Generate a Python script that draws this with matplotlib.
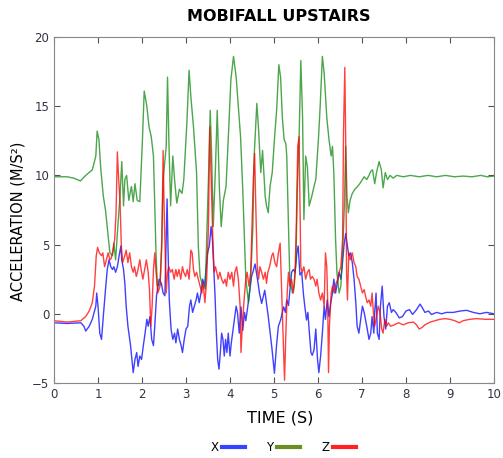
import matplotlib
matplotlib.use("Agg")
import matplotlib.pyplot as plt
from matplotlib.lines import Line2D

# ---- data (time [s], acceleration [m/s^2]) ----
t_y = [0.0, 0.30, 0.45, 0.60, 0.72, 0.87, 0.95, 0.98, 1.02, 1.06, 1.12, 1.17, 1.23, 1.27, 1.33,
       1.36, 1.40, 1.45, 1.50, 1.54, 1.58, 1.61, 1.65, 1.70, 1.76, 1.80, 1.84, 1.89, 1.95, 2.01,
       2.05, 2.11, 2.16, 2.21, 2.26, 2.29, 2.32, 2.35, 2.41, 2.45, 2.48, 2.55, 2.58, 2.61, 2.65,
       2.70, 2.74, 2.79, 2.85, 2.91, 2.95, 3.02, 3.07, 3.11, 3.17, 3.21, 3.24, 3.28, 3.32, 3.38,
       3.44, 3.47, 3.51, 3.55, 3.58, 3.62, 3.67, 3.71, 3.76, 3.80, 3.85, 3.91, 3.96, 4.02, 4.08,
       4.14, 4.19, 4.24, 4.29, 4.33, 4.36, 4.42, 4.47, 4.52, 4.55, 4.61, 4.65, 4.70, 4.74, 4.80,
       4.83, 4.87, 4.91, 4.96, 5.01, 5.06, 5.11, 5.15, 5.19, 5.23, 5.27, 5.29, 5.33, 5.36, 5.42,
       5.46, 5.50, 5.53, 5.57, 5.61, 5.65, 5.68, 5.72, 5.76, 5.80, 5.86, 5.91, 5.95, 6.01, 6.05,
       6.10, 6.14, 6.20, 6.25, 6.30, 6.33, 6.36, 6.40, 6.43, 6.48, 6.52, 6.56, 6.60, 6.63, 6.66,
       6.69, 6.73, 6.78, 6.84, 6.90, 6.95, 7.01, 7.05, 7.11, 7.16, 7.20, 7.24, 7.29, 7.33, 7.39,
       7.44, 7.48, 7.53, 7.58, 7.64, 7.71, 7.79, 7.94, 8.10, 8.30, 8.50, 8.70, 8.90, 9.10, 9.30,
       9.50, 9.70, 9.85, 10.0]
acc_y = [9.9, 9.9, 9.8, 9.6, 10.0, 10.4, 11.4, 13.2, 12.6, 10.6, 8.5, 7.5, 5.6, 4.4, 4.2,
         5.1, 3.9, 6.3, 8.5, 11.0, 7.8, 9.7, 10.0, 8.2, 9.2, 8.1, 9.4, 8.2, 8.1, 12.6,
         16.1, 15.0, 13.5, 12.8, 11.4, 7.8, 4.2, 2.0, 2.1, 5.4, 9.7, 12.1, 17.1, 12.6, 7.8,
         11.4, 9.7, 8.0, 9.0, 8.7, 9.7, 13.8, 17.6, 15.7, 13.5, 11.6, 10.2, 4.9, 2.7, 2.0,
         1.8, 5.4, 9.7, 14.7, 11.8, 6.3, 10.6, 14.7, 9.0, 6.3, 8.2, 9.2, 12.6, 16.9, 18.6,
         17.1, 15.0, 12.8, 9.0, 5.4, 2.5, 0.8, 2.5, 6.3, 11.4, 15.2, 13.3, 10.2, 11.8, 8.5,
         7.8, 7.3, 9.2, 10.2, 12.6, 14.7, 18.0, 17.1, 14.2, 12.6, 12.3, 11.4, 6.3, 2.5, 1.5,
         2.0, 3.9, 9.0, 12.6, 18.3, 14.2, 6.8, 11.4, 10.6, 7.8, 8.5, 9.2, 9.7, 12.6, 15.0,
         18.6, 17.4, 14.2, 12.6, 11.4, 12.1, 10.2, 5.4, 3.0, 1.5, 2.0, 4.4, 7.8, 12.1, 8.5,
         7.3, 8.2, 8.7, 9.0, 9.2, 9.4, 9.7, 9.9, 9.7, 10.0, 10.3, 10.4, 9.4, 10.2, 11.0,
         10.4, 9.1, 10.2, 9.7, 10.0, 9.8, 10.0, 9.9, 10.0, 9.9, 10.0, 9.9, 10.0, 9.9, 9.95,
         9.9, 10.0, 9.9, 9.95]

t_x = [0.0, 0.30, 0.61, 0.68, 0.72, 0.80, 0.87, 0.95, 0.97, 1.00, 1.04, 1.08, 1.12, 1.17, 1.21,
       1.25, 1.29, 1.33, 1.36, 1.40, 1.44, 1.48, 1.52, 1.54, 1.58, 1.61, 1.64, 1.68, 1.71, 1.74,
       1.77, 1.80, 1.84, 1.88, 1.91, 1.95, 1.99, 2.03, 2.07, 2.11, 2.14, 2.18, 2.22, 2.26, 2.29,
       2.33, 2.39, 2.44, 2.48, 2.52, 2.57, 2.59, 2.62, 2.66, 2.70, 2.74, 2.77, 2.81, 2.85, 2.89,
       2.92, 2.96, 3.00, 3.04, 3.08, 3.11, 3.15, 3.19, 3.23, 3.26, 3.30, 3.34, 3.38, 3.42, 3.45,
       3.49, 3.53, 3.57, 3.60, 3.63, 3.66, 3.69, 3.72, 3.75, 3.78, 3.81, 3.84, 3.87, 3.90, 3.93,
       3.96, 4.00, 4.03, 4.06, 4.09, 4.14, 4.17, 4.21, 4.25, 4.29, 4.33, 4.36, 4.42, 4.49, 4.52,
       4.57, 4.63, 4.67, 4.72, 4.79, 4.87, 4.95, 5.01, 5.06, 5.10, 5.15, 5.22, 5.26, 5.29, 5.33,
       5.36, 5.40, 5.44, 5.48, 5.52, 5.55, 5.59, 5.63, 5.67, 5.70, 5.74, 5.77, 5.80, 5.84, 5.87,
       5.91, 5.95, 5.99, 6.02, 6.06, 6.10, 6.14, 6.17,
       6.21, 6.25, 6.29, 6.33, 6.36, 6.40, 6.44, 6.48, 6.52, 6.55, 6.59, 6.63, 6.67, 6.70, 6.74,
       6.78, 6.82, 6.86, 6.89, 6.93, 6.97, 7.01, 7.05, 7.08, 7.12, 7.16, 7.20, 7.23, 7.27, 7.29,
       7.32, 7.35, 7.39, 7.42, 7.46, 7.50, 7.54, 7.58, 7.62, 7.67, 7.71, 7.77, 7.85, 7.92, 8.00,
       8.08, 8.15, 8.24, 8.32, 8.37, 8.43, 8.51, 8.58, 8.70, 8.81, 8.92, 9.08, 9.23, 9.38, 9.53,
       9.68, 9.83, 10.0]
acc_x = [-0.65, -0.7, -0.65, -0.9, -1.25, -0.9, -0.4, 0.55, 1.5, 0.55, -1.4, -1.85, -0.2, 1.75, 3.2,
         3.9, 3.4, 3.2, 3.4, 3.0, 3.4, 4.2, 4.9, 3.9, 3.2, 2.2, 0.55, -0.9, -1.6, -2.3,
         -3.3, -4.25, -3.3, -2.8, -3.8, -3.05, -3.3, -2.3, -1.4, -0.4, -0.9, -0.2, -1.85, -2.3, -0.9,
         1.3, 2.5, 2.2, 1.5, 1.3, 8.3, 4.9, 1.0, -1.1, -1.85, -1.4, -2.1, -1.1, -1.85, -2.3,
         -2.8, -1.85, -1.1, -0.9, 0.55, 1.0, 0.1, 0.55, 1.0, 1.5, 0.8, 1.5, 2.5, 2.0, 3.0,
         4.4, 4.9, 6.3, 5.4, 3.4, 1.3, -1.4, -3.3, -4.0, -2.8, -1.4, -1.85, -3.05, -1.85, -2.8,
         -1.4, -3.05, -2.1, -1.4, -0.65, 0.55, 0.1, -1.4, 0.5, -1.2, 0.1, -0.5, 0.9, 2.7, 3.0,
         3.6, 2.4, 1.5, 0.75, 1.7, -0.2, -2.4, -4.3, -2.2, -0.9, -0.45, 0.5, 0.1, 1.0, 0.6,
         1.6, 3.0, 3.2, 3.0, 4.4, 4.9, 2.8, 3.0, 1.4, 0.55, -0.45, 0.1, -1.2, -2.8, -3.0,
         -2.6, -1.1, -3.3, -4.25, -3.05, -1.4, 0.55, -0.4,
         1.0, -0.2, 0.8, 1.5, 2.5, 1.5, 2.2, 3.0, 2.5, 3.4, 4.9, 5.8, 4.9, 4.2, 4.4,
         3.7, 2.5, 0.8, -0.9, -1.4, -0.4, 0.55, 0.1, -0.4, -1.1, -1.85, -1.4, -0.2, -1.4, 0.1,
         1.5, -1.4, -1.85, 0.55, 2.0, -0.2, -1.1, 0.55, 0.8, 0.1, 0.3, 0.1, -0.3, -0.2, 0.2,
         0.3, -0.05, 0.3, 0.7, 0.45, 0.1, 0.2, -0.05, 0.1, 0.0, 0.1, 0.1, 0.2, 0.25, 0.1,
         0.0, 0.1, 0.0]

t_z = [0.0, 0.30, 0.61, 0.72, 0.80, 0.87, 0.92, 0.96, 0.99, 1.03, 1.08, 1.11, 1.15, 1.19, 1.23,
       1.27, 1.30, 1.34, 1.38, 1.41, 1.44, 1.47, 1.50, 1.53, 1.56, 1.61, 1.64, 1.68, 1.72, 1.76,
       1.80, 1.83, 1.87, 1.91, 1.95, 1.98, 2.02, 2.06, 2.10, 2.14, 2.17, 2.20, 2.23, 2.26, 2.29,
       2.32, 2.36, 2.41, 2.45, 2.48, 2.50, 2.52, 2.55, 2.58, 2.61, 2.65, 2.69, 2.73, 2.77, 2.80,
       2.84, 2.88, 2.92, 2.95, 2.99, 3.03, 3.07, 3.11, 3.14, 3.17, 3.20, 3.24, 3.28, 3.32, 3.36,
       3.39, 3.43, 3.47, 3.51, 3.54, 3.58, 3.61, 3.64, 3.67, 3.70, 3.73, 3.77, 3.81, 3.85, 3.89,
       3.92, 3.96, 4.00, 4.04, 4.08, 4.11, 4.15, 4.19, 4.23, 4.25, 4.28, 4.32, 4.36, 4.39, 4.43,
       4.47, 4.50, 4.53, 4.56, 4.59, 4.62, 4.65, 4.68, 4.72, 4.76, 4.80, 4.83, 4.86, 4.90, 4.95,
       4.98, 5.02, 5.06, 5.10, 5.14, 5.16, 5.19, 5.21, 5.24, 5.27, 5.30, 5.33, 5.36, 5.40, 5.44,
       5.48, 5.51, 5.54, 5.57, 5.59, 5.61, 5.64, 5.68, 5.72, 5.76, 5.80, 5.83, 5.87, 5.91, 5.95,
       5.98, 6.02, 6.06, 6.10, 6.14, 6.17, 6.20, 6.22, 6.24, 6.26, 6.30, 6.33, 6.37, 6.41, 6.45,
       6.48, 6.52, 6.56, 6.58, 6.61, 6.63, 6.65, 6.67, 6.70, 6.73, 6.78, 6.82, 6.86, 6.89, 6.93,
       6.97, 7.01, 7.05, 7.08, 7.12, 7.16, 7.20, 7.23, 7.26, 7.29, 7.33, 7.37, 7.41, 7.45, 7.48,
       7.52, 7.56, 7.60, 7.65, 7.73, 7.83, 7.94, 8.05, 8.17, 8.24, 8.30, 8.36, 8.43, 8.55, 8.66,
       8.77, 8.89, 9.00, 9.11, 9.21, 9.30, 9.45, 9.61, 9.80, 10.0]
acc_z = [-0.5, -0.6, -0.5, -0.2, 0.2, 0.8, 2.0, 4.2, 4.8, 4.4, 4.2, 4.4, 3.4, 3.9, 4.4,
         3.9, 4.0, 4.6, 5.4, 7.3, 11.7, 9.7, 8.2, 4.9, 3.7, 4.2, 4.6, 3.7, 4.4, 3.4,
         3.0, 3.4, 2.7, 3.2, 3.9, 3.2, 2.5, 3.2, 3.9, 3.0, 1.75, -0.9, 0.55, 3.2, 4.4,
         3.0, 1.5, 2.0, 4.9, 11.8, 8.0, 5.4, 1.5, 3.0, 3.4, 3.0, 3.2, 2.5, 3.2, 2.7,
         3.2, 2.5, 3.4, 3.0, 2.7, 3.2, 2.5, 4.6, 4.4, 3.2, 2.7, 3.0, 2.5, 2.0, 1.5,
         2.2, 0.8, 2.5, 6.3, 13.5, 9.0, 5.4, 3.0, 3.4, 3.0, 2.5, 3.0, 2.5, 2.2, 2.5,
         2.0, 3.0, 2.5, 3.0, 2.0, 3.0, 3.4, 2.5, 0.55, -2.8, -0.9, 1.0, 2.5, 3.0, 2.0,
         3.0, 6.3, 9.7, 11.6, 7.3, 3.4, 2.5, 3.4, 3.0, 2.5, 3.0, 2.2, 3.0, 3.4, 4.2,
         4.4, 3.7, 3.4, 4.4, 5.1, 3.0, 0.1, -1.85, -4.8, -1.4, 1.5, 3.0, 2.0, 2.5, 1.5,
         3.0, 6.8, 12.1, 12.8, 7.8, 3.4, 3.0, 3.4, 2.5, 3.0, 3.2, 2.5, 2.7, 2.5, 2.0,
         2.5, 1.5, 1.0, 1.5, 0.55, 4.4, 3.4, 1.0, -4.25, -0.9, 1.5, 2.0, 1.5, 2.2, 2.5,
         3.0, 3.4, 5.4, 13.1, 17.8, 12.6, 3.0, 1.0, 4.4, 3.9, 4.4, 3.7, 3.4, 2.7, 2.5,
         2.0, 1.5, 1.75, 1.3, 0.8, 1.0, 0.55, 1.5, 0.1, -0.9, -0.2, 0.55, 0.1, -1.1, -1.4,
         -0.4, -0.9, -0.65, -0.9, -0.8, -0.65, -0.8, -0.65, -0.6, -0.8, -1.1, -1.0, -0.8, -0.6, -0.5,
         -0.4, -0.35, -0.4, -0.5, -0.65, -0.5, -0.4, -0.35, -0.4, -0.4]

x_ticks = list(range(0, 11))
y_ticks = [-5, 0, 5, 10, 15, 20]

fig = plt.figure(figsize=(5.03, 4.58), dpi=100)
ax = fig.add_axes([0.1074, 0.1638, 0.8746, 0.7554])

ax.plot(t_x, acc_x, color="#0000ff", lw=1.0, alpha=0.75)
ax.plot(t_y, acc_y, color="#008000", lw=1.0, alpha=0.7)
ax.plot(t_z, acc_z, color="#ff0000", lw=1.0, alpha=0.75)

ax.set_xlim(0, 10)
ax.set_ylim(-5, 20)
ax.set_xticks(x_ticks)
ax.set_yticks(y_ticks)
ax.tick_params(direction="in", top=True, right=True, length=4, labelsize=8.5,
               colors="#555555", labelcolor="#333344")
for s in ax.spines.values():
    s.set_color("#888888")

fig.text(0.555, 0.963, "MOBIFALL UPSTAIRS", ha="center", va="center",
         fontsize=11.5, fontweight="bold")
ax.set_xlabel("TIME (S)", fontsize=11.5)
ax.set_ylabel("ACCELERATION (M/S²)", fontsize=10.5)
ax.xaxis.set_label_coords(0.514, -0.08)
ax.yaxis.set_label_coords(-0.065, 0.468)

handles = [Line2D([], [], color="#3344ff", lw=3),
           Line2D([], [], color="#6b8e23", lw=3),
           Line2D([], [], color="#ff2222", lw=3)]
fig.legend(handles, ["X", "Y", "Z"], loc="center", bbox_to_anchor=(0.563, 0.022),
           ncol=3, frameon=False, markerfirst=False, fontsize=8.5,
           handlelength=1.95, handletextpad=0.3, columnspacing=1.8)

fig.savefig("out.png", dpi=100)
